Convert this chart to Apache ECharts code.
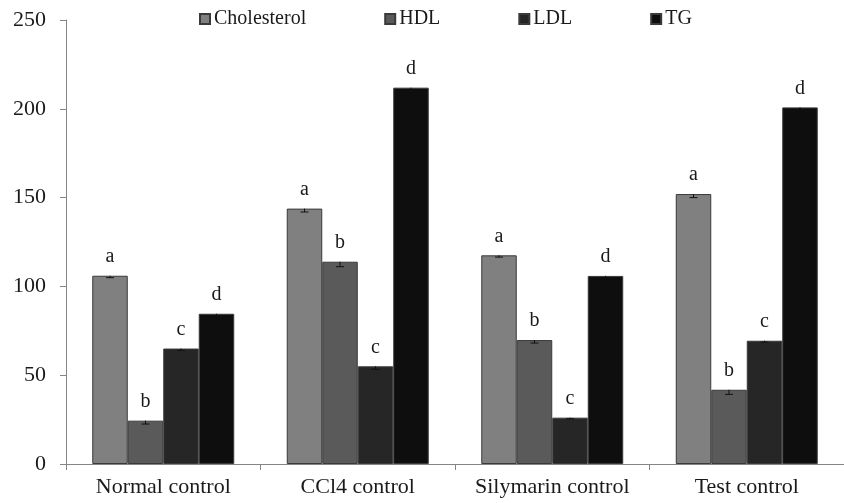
<!DOCTYPE html>
<html><head><meta charset="utf-8">
<script src="https://cdn.jsdelivr.net/npm/echarts@6/dist/echarts.min.js"></script>
<style>html,body{margin:0;padding:0;background:#fff}#c{width:844px;height:503px}</style>
</head><body><div id="c"></div>
<script>
var categories = ['Normal control', 'CCl4 control', 'Silymarin control', 'Test control'];
var seriesNames = ['Cholesterol', 'HDL', 'LDL', 'TG'];
var cholesterol = [106, 143.8, 117.5, 152];
var hdl = [24.4, 113.9, 69.8, 41.8];
var ldl = [65, 55, 26.1, 69.4];
var tg = [84.6, 211.9, 105.9, 200.8];
var cholErr = [1.1, 1.9, 1.0, 2.0];
var hdlErr = [1.9, 2.8, 1.7, 2.6];
var ldlErr = [1.1, 1.7, 0.6, 0.8];
var tgErr = [1.0, 1.5, 2.8, 1.7];
var letters = ['a', 'b', 'c', 'd'];
var yTicks = [0, 50, 100, 150, 200, 250];

var values = [cholesterol, hdl, ldl, tg];
var errs = [cholErr, hdlErr, ldlErr, tgErr];
var colors = ['#808080', '#5a5a5a', '#262626', '#0e0e0e'];
var font = 'Liberation Serif, Times New Roman, serif';
var gapRatio = 0.27;

var series = [];
values.forEach(function (vals, i) {
  series.push({
    name: seriesNames[i], type: 'bar', data: vals,
    barGap: '0%', barCategoryGap: (gapRatio * 100) + '%',
    itemStyle: { color: colors[i], borderColor: '#3a3a3a', borderWidth: 1 },
    label: { show: true, position: 'top', distance: 9, formatter: letters[i],
      fontFamily: font, fontSize: 20, color: '#1a1a1a' },
    emphasis: { disabled: true }, animation: false
  });
});
var errData = [];
values.forEach(function (vals, i) {
  vals.forEach(function (v, j) { errData.push([j, v, v - errs[i][j], i]); });
});
series.push({
  type: 'custom', data: errData, z: 10, silent: true, animation: false,
  renderItem: function (params, api) {
    var j = api.value(0), i = api.value(3);
    var top = api.coord([j, api.value(1)]);
    var low = api.coord([j, api.value(2)]);
    var cw = api.size([1, 0])[0];
    var bw = cw * (1 - gapRatio) / 4;
    var x = top[0] + (i - 1.5) * bw;
    var st = { stroke: '#111', lineWidth: 1 };
    return { type: 'group', children: [
      { type: 'line', shape: { x1: x, y1: top[1], x2: x, y2: low[1] }, style: st },
      { type: 'line', shape: { x1: x - 4, y1: low[1], x2: x + 4, y2: low[1] }, style: st }
    ]};
  }
});

var chart = echarts.init(document.getElementById('c'));
chart.setOption({
  animation: false,
  legend: {
    data: seriesNames, left: 199, top: 9, padding: 0, icon: 'rect', itemWidth: 10, itemHeight: 10,
    itemGap: 78, selectedMode: false,
    textStyle: { fontFamily: font, fontSize: 20, color: '#1a1a1a', padding: [0, 0, 0, -1] }
  },
  grid: { left: 66, top: 20, height: 444, width: 785 },
  xAxis: {
    type: 'category', data: categories,
    axisLine: { lineStyle: { color: '#858585', width: 1 } },
    axisTick: { show: true, length: 6, lineStyle: { color: '#858585' } },
    axisLabel: { interval: 0, fontFamily: font, fontSize: 22, color: '#1a1a1a', margin: 12 }
  },
  yAxis: {
    type: 'value', min: 0, max: 250, interval: 50,
    axisLine: { show: true, lineStyle: { color: '#858585', width: 1 } },
    axisTick: { show: true, length: 6, lineStyle: { color: '#858585' } },
    splitLine: { show: false },
    axisLabel: { fontFamily: font, fontSize: 22, color: '#1a1a1a', margin: 20,
      formatter: function (v) { return yTicks.indexOf(v) >= 0 ? String(v) : ''; } }
  },
  series: series
});
</script></body></html>
